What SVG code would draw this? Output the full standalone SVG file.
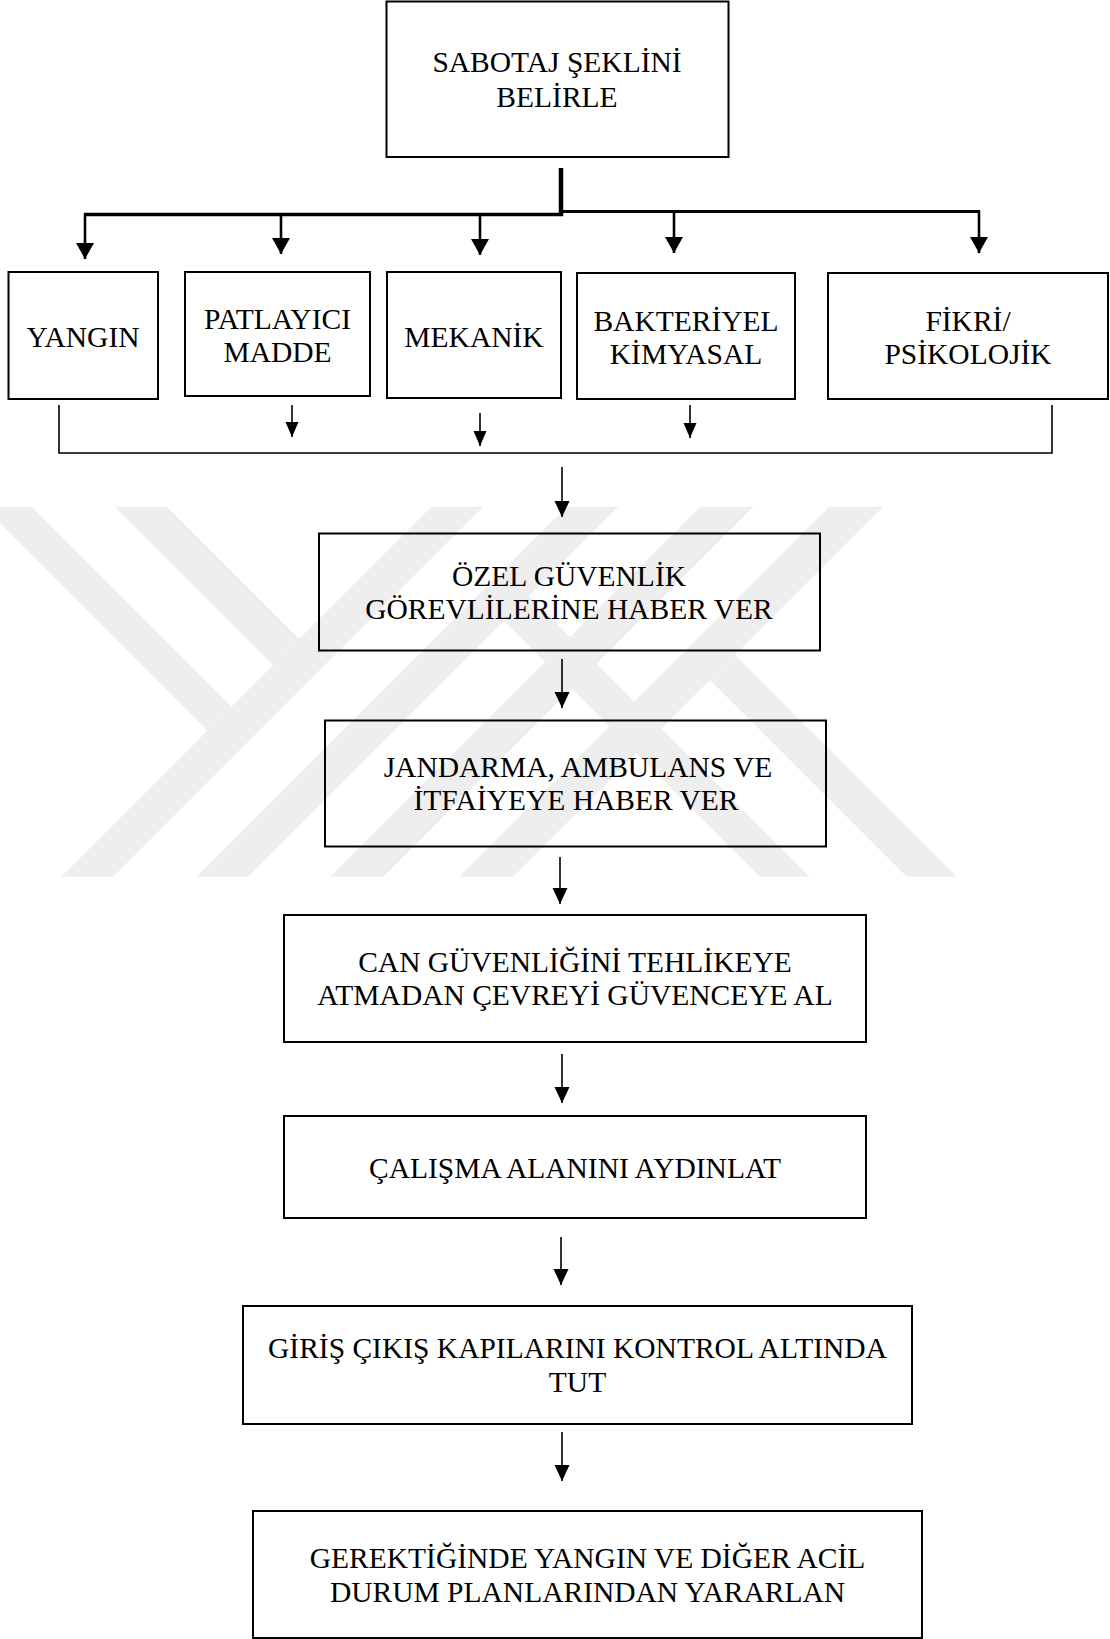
<svg xmlns="http://www.w3.org/2000/svg" width="1110" height="1639" viewBox="0 0 1110 1639">
  <style>
    .box { fill: none; stroke: #000; stroke-width: 2; }
    .lbl { font-family: "Liberation Serif", "Times New Roman", serif; font-size: 29.5px; fill: #000; text-anchor: middle; }
    .ln { stroke: #000; stroke-width: 1.6; fill: none; }
    .ln-b { stroke: #000; stroke-width: 2.6; fill: none; }
    .wm { fill: #eeeeee; }
  </style>
  <defs>
    <!-- arrowheads drawn along +x, rotated onto the line by orient="auto" -->
    <marker id="head" markerUnits="userSpaceOnUse" markerWidth="16" markerHeight="16" refX="16" refY="7.5" orient="auto" viewBox="0 0 16 16">
      <path d="M0,0 L16,7.5 L0,15 Z" fill="#000"/>
    </marker>
    <marker id="head-b" markerUnits="userSpaceOnUse" markerWidth="16" markerHeight="19" refX="16" refY="9" orient="auto" viewBox="0 0 16 19">
      <path d="M0,0 L16,9 L0,18 Z" fill="#000"/>
    </marker>
    <marker id="head-s" markerUnits="userSpaceOnUse" markerWidth="15" markerHeight="14" refX="15" refY="6.5" orient="auto" viewBox="0 0 15 14">
      <path d="M0,0 L15,6.5 L0,13 Z" fill="#000"/>
    </marker>
    <clipPath id="wm-clip">
      <rect x="0" y="506.7" width="1110" height="370"/>
    </clipPath>
  </defs>

  <rect width="1110" height="1639" fill="#fff"/>

  <!-- background emblem: diagonal stripes -->
  <g id="emblem" clip-path="url(#wm-clip)">
    <polygon class="wm" points="438,500 490,500 110,880 58,880"/>
    <polygon class="wm" points="573.4,500 625,500 245,880 193.4,880"/>
    <polygon class="wm" points="707,500 760,500 380,880 327,880"/>
    <polygon class="wm" points="836,500 890,500 510,880 456,880"/>
    <polygon class="wm" points="-100,375 231.5,706.5 207.4,730.7 -100,423.3"/>
    <polygon class="wm" points="160,500 299,639 273.2,664.9 108.3,500"/>
    <polygon class="wm" points="735,655 960,880 910,880 710,680"/>
    <polygon class="wm" points="529,596 813,880 763,880 504,621"/>
  </g>

  <!-- connectors -->
  <g id="connectors">
    <!-- split from the top box -->
    <line x1="561" y1="168" x2="561" y2="216" stroke="#000" stroke-width="4.5"/>
    <line x1="84" y1="214.5" x2="563" y2="214.5" stroke="#000" stroke-width="3.5"/>
    <line x1="559" y1="211.5" x2="980" y2="211.5" stroke="#000" stroke-width="3"/>
    <line class="ln-b" x1="85" y1="214" x2="85" y2="259" marker-end="url(#head-b)"/>
    <line class="ln-b" x1="281" y1="213" x2="281" y2="254" marker-end="url(#head-b)"/>
    <line class="ln-b" x1="480" y1="214" x2="480" y2="255" marker-end="url(#head-b)"/>
    <line class="ln-b" x1="674" y1="211" x2="674" y2="253" marker-end="url(#head-b)"/>
    <line class="ln-b" x1="979" y1="211" x2="979" y2="253" marker-end="url(#head-b)"/>

    <!-- merge bracket under the category row -->
    <polyline class="ln" points="59,405 59,453 1052,453 1052,405"/>
    <line class="ln" x1="292" y1="405" x2="292" y2="437" marker-end="url(#head-s)"/>
    <line class="ln" x1="480" y1="413" x2="480" y2="446" marker-end="url(#head-s)"/>
    <line class="ln" x1="690" y1="405" x2="690" y2="438" marker-end="url(#head-s)"/>

    <!-- main sequence -->
    <line class="ln" x1="562" y1="467" x2="562" y2="517" marker-end="url(#head)"/>
    <line class="ln" x1="562" y1="659" x2="562" y2="708" marker-end="url(#head)"/>
    <line class="ln" x1="560" y1="857" x2="560" y2="904" marker-end="url(#head)"/>
    <line class="ln" x1="562" y1="1054" x2="562" y2="1103" marker-end="url(#head)"/>
    <line class="ln" x1="561" y1="1237" x2="561" y2="1285" marker-end="url(#head)"/>
    <line class="ln" x1="562" y1="1432" x2="562" y2="1481" marker-end="url(#head)"/>
  </g>

  <g id="n-sabotaj">
    <rect class="box" x="386.5" y="1.5" width="342" height="155.5"/>
    <text class="lbl" x="557" y="72">SABOTAJ ŞEKLİNİ</text>
    <text class="lbl" x="557" y="106.5">BELİRLE</text>
  </g>

  <g id="n-yangin">
    <rect class="box" x="8.5" y="272" width="149.5" height="127"/>
    <text class="lbl" x="83" y="347">YANGIN</text>
  </g>

  <g id="n-patlayici">
    <rect class="box" x="185" y="272" width="185" height="124"/>
    <text class="lbl" x="277.5" y="329">PATLAYICI</text>
    <text class="lbl" x="277.5" y="362">MADDE</text>
  </g>

  <g id="n-mekanik">
    <rect class="box" x="387" y="272" width="174" height="126"/>
    <text class="lbl" x="474" y="347">MEKANİK</text>
  </g>

  <g id="n-bakteriyel">
    <rect class="box" x="577" y="273" width="218" height="126"/>
    <text class="lbl" x="686" y="331">BAKTERİYEL</text>
    <text class="lbl" x="686" y="364">KİMYASAL</text>
  </g>

  <g id="n-fikri">
    <rect class="box" x="828" y="273" width="280" height="126"/>
    <text class="lbl" x="968" y="331">FİKRİ/</text>
    <text class="lbl" x="968" y="364">PSİKOLOJİK</text>
  </g>

  <g id="n-ozel">
    <rect class="box" x="319" y="533.5" width="501" height="117"/>
    <text class="lbl" x="569" y="586">ÖZEL GÜVENLİK</text>
    <text class="lbl" x="569" y="619">GÖREVLİLERİNE HABER VER</text>
  </g>

  <g id="n-jandarma">
    <rect class="box" x="325" y="720.5" width="501" height="126"/>
    <text class="lbl" x="578" y="777">JANDARMA, AMBULANS VE</text>
    <text class="lbl" x="576" y="810">İTFAİYEYE HABER VER</text>
  </g>

  <g id="n-can">
    <rect class="box" x="284" y="915" width="582" height="127"/>
    <text class="lbl" x="575" y="972">CAN GÜVENLİĞİNİ TEHLİKEYE</text>
    <text class="lbl" x="575" y="1005">ATMADAN ÇEVREYİ GÜVENCEYE AL</text>
  </g>

  <g id="n-calisma">
    <rect class="box" x="284" y="1116" width="582" height="102"/>
    <text class="lbl" x="575" y="1178">ÇALIŞMA ALANINI AYDINLAT</text>
  </g>

  <g id="n-giris">
    <rect class="box" x="243" y="1306" width="669" height="118"/>
    <text class="lbl" x="577.5" y="1358">GİRİŞ ÇIKIŞ KAPILARINI KONTROL ALTINDA</text>
    <text class="lbl" x="577.5" y="1392">TUT</text>
  </g>

  <g id="n-gerektiginde">
    <rect class="box" x="253" y="1511" width="669" height="127"/>
    <text class="lbl" x="587.5" y="1568">GEREKTİĞİNDE YANGIN VE DİĞER ACİL</text>
    <text class="lbl" x="587.5" y="1602">DURUM PLANLARINDAN YARARLAN</text>
  </g>
</svg>
